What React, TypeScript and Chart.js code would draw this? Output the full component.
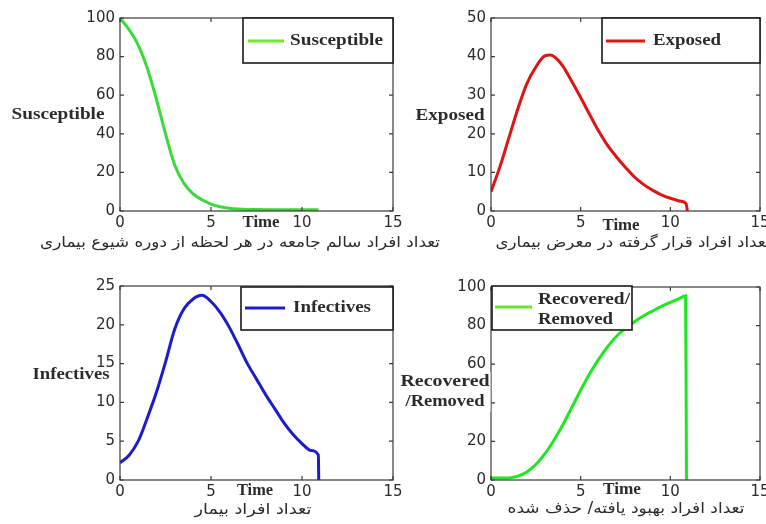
import React, { useEffect, useRef } from "react";
import { Chart, registerables } from "chart.js";
Chart.register(...registerables);

// ---------- data ----------
const xTickStep = 5;
const xMax = 15;

const susceptibleTime = [0, 0.5, 1, 1.5, 2, 2.5, 3, 3.5, 4, 4.5, 5, 5.5, 6, 6.5, 7, 8, 9, 10, 10.9];
const susceptibleValues = [100, 94, 86, 74, 58, 40, 24, 14.5, 9, 5.8, 3.6, 2.2, 1.4, 1.0, 0.8, 0.7, 0.6, 0.6, 0.6];

const exposedTime = [0, 0.5, 1, 1.5, 2, 2.5, 3, 3.3, 3.6, 4, 4.5, 5, 5.5, 6, 6.5, 7, 7.5, 8, 8.5, 9, 9.5, 10, 10.5, 10.8, 10.9, 10.95];
const exposedValues = [5, 11.5, 19, 26.5, 33, 37.3, 40.2, 40.4, 39.7, 37.6, 33.6, 29.4, 25, 20.7, 17, 14, 11.3, 8.8, 6.9, 5.4, 4.2, 3.3, 2.6, 2.2, 1.5, 0];

const infectivesTime = [0, 0.5, 1, 1.5, 2, 2.5, 3, 3.5, 4, 4.5, 5, 5.5, 6, 6.5, 7, 7.5, 8, 8.5, 9, 9.5, 10, 10.5, 10.9, 10.92];
const infectivesValues = [2.2, 3.2, 5, 8, 11.3, 15.2, 19.4, 22, 23.3, 23.8, 23, 21.6, 19.7, 17.4, 15, 13, 11, 9.2, 7.4, 5.9, 4.7, 3.8, 3.2, 0];

const recoveredTime = [0, 0.5, 1, 1.5, 2, 2.5, 3, 3.5, 4, 4.5, 5, 5.5, 6, 6.5, 7, 7.5, 8, 8.5, 9, 9.5, 10, 10.5, 10.85, 10.88, 10.9];
const recoveredValues = [1, 1, 1.1, 2, 4.2, 8, 13.5, 20.5, 28.5, 37.5, 46.5, 55, 62.5, 69, 74.5, 78.5, 82, 85, 87.5, 90, 92, 94, 95.5, 48, 0];

const yMaxes = [100, 50, 25, 100];
const yStepSizes = [20, 10, 5, 20];
const seriesNames = ["Susceptible", "Exposed", "Infectives", "Recovered/Removed"];
const yAxisLabels = [["Susceptible"], ["Exposed"], ["Infectives"], ["Recovered", "/Removed"]];
const legendLabels = [["Susceptible"], ["Exposed"], ["Infectives"], ["Recovered/", "Removed"]];
const xAxisLabel = "Time";
const captions = [
  "تعداد افراد سالم جامعه در هر لحظه از دوره شیوع بیماری",
  "تعداد افراد قرار گرفته در معرض بیماری",
  "تعداد افراد بیمار",
  "تعداد افراد بهبود یافته/ حذف شده",
];

// ---------- layout / style (not data) ----------
const TICK_FONT = { family: "'DejaVu Sans', sans-serif", size: 15 };
const SERIF = "bold 16px 'Liberation Serif', 'Times New Roman', serif";
const CAPTION_FONT = "15px 'DejaVu Sans', sans-serif";
const TEXT = "#2b2b2b";

type Panel = {
  left: number; top: number; W: number; H: number;
  area: { l: number; t: number; r: number; b: number };
  xs: number[]; ys: number[]; idx: number;
  color: string; legendColor: string;
  yLab: { cx: number; ys: number[]; ws: number[]; bg: boolean };
  time: { cx: number; cy: number; w: number };
  legend: { x0: number; y0: number; x1: number; y1: number; lx0: number; lx1: number; ly: number; tx: number; tys: number[]; tws: number[] };
  caption: { cx: number; cy: number; w: number };
};

const panels: Panel[] = [
  {
    left: 0, top: 0, W: 450, H: 262,
    area: { l: 120, t: 18, r: 393, b: 211 },
    xs: susceptibleTime, ys: susceptibleValues, idx: 0,
    color: "#38dc38", legendColor: "#70ea2a",
    yLab: { cx: 58, ys: [115], ws: [93], bg: false },
    time: { cx: 261, cy: 223, w: 37 },
    legend: { x0: 243, y0: 18, x1: 393, y1: 63, lx0: 248, lx1: 284, ly: 41, tx: 290, tys: [41], tws: [93] },
    caption: { cx: 240, cy: 243, w: 400 },
  },
  {
    left: 383, top: 0, W: 430, H: 262,
    area: { l: 108, t: 18, r: 377, b: 211 },
    xs: exposedTime, ys: exposedValues, idx: 1,
    color: "#dd1515", legendColor: "#dd1515",
    yLab: { cx: 67, ys: [116], ws: [69], bg: false },
    time: { cx: 238, cy: 226, w: 37 },
    legend: { x0: 219, y0: 18, x1: 377, y1: 63, lx0: 223, lx1: 262, ly: 41, tx: 270, tys: [41], tws: [68] },
    caption: { cx: 250, cy: 243, w: 275 },
  },
  {
    left: 0, top: 262, W: 450, H: 262,
    area: { l: 120, t: 24, r: 393, b: 218 },
    xs: infectivesTime, ys: infectivesValues, idx: 2,
    color: "#1c1ccc", legendColor: "#1c1ccc",
    yLab: { cx: 71, ys: [113], ws: [77], bg: false },
    time: { cx: 255, cy: 229, w: 36 },
    legend: { x0: 241, y0: 25, x1: 393, y1: 68, lx0: 245, lx1: 285, ly: 46, tx: 293, tys: [46], tws: [78] },
    caption: { cx: 253, cy: 248, w: 117 },
  },
  {
    left: 383, top: 262, W: 430, H: 262,
    area: { l: 108, t: 25, r: 377, b: 218 },
    xs: recoveredTime, ys: recoveredValues, idx: 3,
    color: "#1ee81e", legendColor: "#66e82a",
    yLab: { cx: 62, ys: [120, 140], ws: [89, 79], bg: true },
    time: { cx: 239, cy: 228, w: 38 },
    legend: { x0: 109, y0: 24, x1: 249, y1: 68, lx0: 112, lx1: 149, ly: 45, tx: 155, tys: [38, 58], tws: [92, 75] },
    caption: { cx: 243, cy: 247, w: 237 },
  },
];

function fitText(ctx: CanvasRenderingContext2D, text: string, cx: number, cy: number, w: number, font: string, rtl = false) {
  ctx.save();
  ctx.font = font;
  ctx.fillStyle = TEXT;
  ctx.textBaseline = "middle";
  ctx.textAlign = "center";
  if (rtl) (ctx as any).direction = "rtl";
  const m = ctx.measureText(text).width || 1;
  ctx.translate(cx, cy);
  ctx.scale(w / m, 1);
  ctx.fillText(text, 0, 0);
  ctx.restore();
}

function makeDecor(p: Panel) {
  return {
    id: "decor" + p.idx,
    afterDraw(chart: any) {
      const ctx: CanvasRenderingContext2D = chart.ctx;
      const { left, right, top, bottom } = chart.chartArea;
      const xs = chart.scales.x;
      const ys = chart.scales.y;
      ctx.save();
      // frame
      ctx.strokeStyle = "#3a3a3a";
      ctx.lineWidth = 1.2;
      ctx.strokeRect(left, top, right - left, bottom - top);
      // inward ticks
      ctx.beginPath();
      xs.ticks.forEach((t: any) => {
        const x = xs.getPixelForValue(t.value);
        ctx.moveTo(x, bottom); ctx.lineTo(x, bottom - 4);
        ctx.moveTo(x, top); ctx.lineTo(x, top + 4);
      });
      ys.ticks.forEach((t: any) => {
        const y = ys.getPixelForValue(t.value);
        ctx.moveTo(left, y); ctx.lineTo(left + 4, y);
        ctx.moveTo(right, y); ctx.lineTo(right - 4, y);
      });
      ctx.stroke();
      // legend box
      const L = p.legend;
      ctx.fillStyle = "#ffffff";
      ctx.fillRect(L.x0, L.y0, L.x1 - L.x0, L.y1 - L.y0);
      ctx.strokeStyle = "#1a1a1a";
      ctx.lineWidth = 1.6;
      ctx.strokeRect(L.x0, L.y0, L.x1 - L.x0, L.y1 - L.y0);
      ctx.strokeStyle = p.legendColor;
      ctx.lineWidth = 3;
      ctx.beginPath();
      ctx.moveTo(L.lx0, L.ly); ctx.lineTo(L.lx1, L.ly);
      ctx.stroke();
      // y label background (covers tick label behind it, as in the original)
      if (p.yLab.bg) {
        ctx.fillStyle = "#ffffff";
        const wMax = Math.max(...p.yLab.ws);
        const y0 = p.yLab.ys[0] - 10;
        const y1 = p.yLab.ys[p.yLab.ys.length - 1] + 10;
        ctx.fillRect(p.yLab.cx - wMax / 2 - 1, y0, wMax + 2, y1 - y0);
      }
      ctx.restore();
      legendLabels[p.idx].forEach((s, i) => fitText(ctx, s, L.tx + L.tws[i] / 2, L.tys[i], L.tws[i], SERIF));
      // y label
      yAxisLabels[p.idx].forEach((s, i) => fitText(ctx, s, p.yLab.cx, p.yLab.ys[i], p.yLab.ws[i], SERIF));
      // x label
      fitText(ctx, xAxisLabel, p.time.cx, p.time.cy, p.time.w, SERIF);
      // caption
      fitText(ctx, captions[p.idx], p.caption.cx, p.caption.cy, p.caption.w, CAPTION_FONT, true);
    },
  };
}

function PanelChart({ p }: { p: Panel }) {
  const ref = useRef<HTMLCanvasElement>(null);
  useEffect(() => {
    if (!ref.current) return;
    const chart = new Chart(ref.current, {
      type: "line",
      data: {
        datasets: [
          {
            label: seriesNames[p.idx],
            data: p.xs.map((x, i) => ({ x, y: p.ys[i] })),
            borderColor: p.color,
            borderWidth: 3,
            pointRadius: 0,
            fill: false,
            cubicInterpolationMode: "monotone",
          },
        ],
      },
      options: {
        animation: false,
        responsive: false,
        maintainAspectRatio: false,
        devicePixelRatio: 1,
        layout: {
          autoPadding: false,
          padding: { left: 0, top: p.area.t, right: p.W - p.area.r, bottom: 0 },
        },
        scales: {
          x: {
            type: "linear",
            min: 0,
            max: xMax,
            ticks: { stepSize: xTickStep, font: TICK_FONT, color: TEXT, padding: 3, maxRotation: 0 },
            grid: { display: false, drawTicks: false },
            border: { display: false },
            afterFit: (s: any) => { s.height = p.H - p.area.b; },
          },
          y: {
            type: "linear",
            min: 0,
            max: yMaxes[p.idx],
            ticks: { stepSize: yStepSizes[p.idx], font: TICK_FONT, color: TEXT, padding: 5 },
            grid: { display: false, drawTicks: false },
            border: { display: false },
            afterFit: (s: any) => { s.width = p.area.l; },
          },
        },
        plugins: { legend: { display: false }, tooltip: { enabled: false } },
      } as any,
      plugins: [makeDecor(p)],
    });
    return () => chart.destroy();
  }, [p]);
  return (
    <canvas
      ref={ref}
      width={p.W}
      height={p.H}
      style={{ position: "absolute", left: p.left, top: p.top, width: p.W, height: p.H }}
    />
  );
}

export default function App() {
  return (
    <div style={{ position: "fixed", left: 0, top: 0, width: 766, height: 524, background: "#ffffff", overflow: "hidden" }}>
      {panels.map((p) => (
        <PanelChart key={p.idx} p={p} />
      ))}
    </div>
  );
}
